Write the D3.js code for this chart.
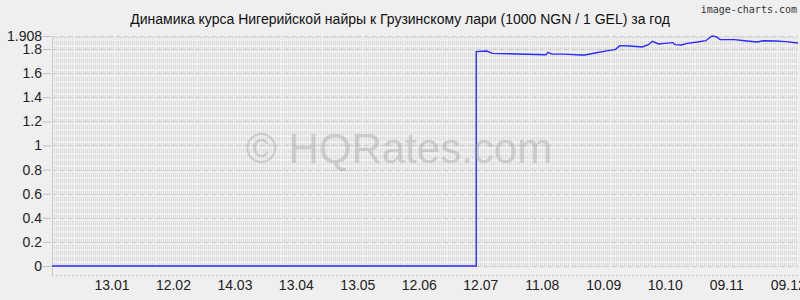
<!DOCTYPE html>
<html>
<head>
<meta charset="utf-8">
<script src="https://cdn.jsdelivr.net/npm/d3@7"></script>
<style>
  body { margin: 0; background: #efefef; }
  svg { display: block; font-family: "Liberation Sans", Arial, sans-serif; }
</style>
</head>
<body>
<div id="wrapper"></div>
<script>
// Data (1000 NGN in GEL)
const dates = [
  "2024-12-15", "2025-07-10", "2025-07-10", "2025-07-15", "2025-07-18", "2025-08-13",
  "2025-08-14", "2025-08-16", "2025-08-22", "2025-08-30", "2025-09-01", "2025-09-06",
  "2025-09-11", "2025-09-16", "2025-09-18", "2025-09-23", "2025-09-29", "2025-10-02",
  "2025-10-04", "2025-10-07", "2025-10-10", "2025-10-14", "2025-10-15", "2025-10-18",
  "2025-10-21", "2025-10-26", "2025-10-30", "2025-11-02", "2025-11-04", "2025-11-06",
  "2025-11-13", "2025-11-18", "2025-11-24", "2025-11-27", "2025-12-03", "2025-12-08",
  "2025-12-14"
]
const values = [
  0, 0, 1.778, 1.783, 1.764, 1.753,
  1.772, 1.758, 1.758, 1.750, 1.750, 1.767,
  1.783, 1.797, 1.828, 1.825, 1.817, 1.836,
  1.864, 1.842, 1.847, 1.853, 1.836, 1.833,
  1.847, 1.858, 1.869, 1.908, 1.903, 1.878,
  1.878, 1.869, 1.858, 1.869, 1.867, 1.861,
  1.850
]
const tickDates = ["2025-01-13", "2025-02-12", "2025-03-14", "2025-04-13", "2025-05-13", "2025-06-12",
                   "2025-07-12", "2025-08-11", "2025-09-10", "2025-10-10", "2025-11-09", "2025-12-09"]
const tickLabels = ["13.01", "12.02", "14.03", "13.04", "13.05", "12.06",
                    "12.07", "11.08", "10.09", "10.10", "09.11", "09.12"]
const yTicks = [0, 0.2, 0.4, 0.6, 0.8, 1, 1.2, 1.4, 1.6, 1.8, 1.908]
const yDomain = [-0.075, 1.908]
const xDomain = ["2024-12-15", "2025-12-14"]
const title = "Динамика курса Нигерийской найры к Грузинскому лари (1000 NGN / 1 GEL) за год"

const parse = d3.utcParse("%Y-%m-%d")
const dataset = dates.map((d, i) => ({ date: parse(d), value: values[i] }))

let dimensions = {
  width: 800,
  height: 300,
  margin: { top: 36, right: 2, bottom: 25, left: 52 }
}
dimensions.boundedWidth = dimensions.width - dimensions.margin.left - dimensions.margin.right
dimensions.boundedHeight = dimensions.height - dimensions.margin.top - dimensions.margin.bottom

const xScale = d3.scaleUtc()
  .domain(xDomain.map(parse))
  .range([0, dimensions.boundedWidth])

const yScale = d3.scaleLinear()
  .domain(yDomain)
  .range([dimensions.boundedHeight, 0])

const svg = d3.select("#wrapper").append("svg")
  .attr("width", dimensions.width)
  .attr("height", dimensions.height)

svg.append("rect")
  .attr("width", dimensions.width)
  .attr("height", dimensions.height)
  .attr("fill", "#efefef")

const bounds = svg.append("g")
  .attr("transform", `translate(${dimensions.margin.left}, ${dimensions.margin.top})`)

// dense vertical grid, one dashed line per day
const days = d3.utcDay.range(...xScale.domain())
bounds.append("g")
  .selectAll("line")
  .data(days)
  .join("line")
  .attr("x1", d => Math.round(xScale(d)) + 0.5)
  .attr("x2", d => Math.round(xScale(d)) + 0.5)
  .attr("y1", yScale(0) + 1)
  .attr("y2", 0)
  .attr("stroke", "#dadada")
  .attr("stroke-dasharray", "4,2")

// horizontal dashed lines at y ticks
bounds.append("g")
  .selectAll("line")
  .data(yTicks)
  .join("line")
  .attr("x1", 0)
  .attr("x2", dimensions.boundedWidth)
  .attr("y1", d => Math.round(yScale(d)) + 0.5)
  .attr("y2", d => Math.round(yScale(d)) + 0.5)
  .attr("stroke", "#cccccc")
  .attr("stroke-dasharray", "5,3")

// bottom dotted line and left axis line
bounds.append("line")
  .attr("x1", 0).attr("x2", dimensions.boundedWidth)
  .attr("y1", dimensions.boundedHeight + 0.5).attr("y2", dimensions.boundedHeight + 0.5)
  .attr("stroke", "#c8c8c8")
  .attr("stroke-dasharray", "2,2")
bounds.append("line")
  .attr("x1", 0.5).attr("x2", 0.5)
  .attr("y1", 0).attr("y2", dimensions.boundedHeight)
  .attr("stroke", "#cccccc")

// watermark
svg.append("text")
  .attr("x", 399)
  .attr("y", 163)
  .attr("text-anchor", "middle")
  .attr("font-size", 42)
  .attr("fill", "#9a9a9a")
  .attr("fill-opacity", 0.4)
  .text("© HQRates.com")

// y axis
const yAxis = d3.axisLeft(yScale)
  .tickValues(yTicks)
  .tickFormat(d => d3.format("")(d))
  .tickSize(8)
  .tickPadding(2)
const yAxisGroup = bounds.append("g").call(yAxis)
yAxisGroup.select(".domain").remove()
yAxisGroup.selectAll(".tick line").attr("stroke", "#c0c0c0").attr("transform", "translate(-1,0)")
yAxisGroup.selectAll(".tick text")
  .attr("font-size", 14)
  .attr("fill", "#222")
  .attr("font-family", "Liberation Sans, Arial, sans-serif")

// x axis
const xAxis = d3.axisBottom(xScale)
  .tickValues(tickDates.map(parse))
  .tickFormat((d, i) => tickLabels[i])
  .tickSize(0)
  .tickPadding(5)
const xAxisGroup = bounds.append("g")
  .attr("transform", `translate(0, ${dimensions.boundedHeight})`)
  .call(xAxis)
xAxisGroup.select(".domain").remove()
xAxisGroup.selectAll(".tick text")
  .attr("font-size", 14)
  .attr("fill", "#222")
  .attr("font-family", "Liberation Sans, Arial, sans-serif")

// the rate line
const lineGenerator = d3.line()
  .x(d => xScale(d.date))
  .y(d => yScale(d.value))
bounds.append("path")
  .datum(dataset)
  .attr("d", lineGenerator)
  .attr("fill", "none")
  .attr("stroke", "#2a2aff")
  .attr("stroke-width", 1.4)

// title and credit
svg.append("text")
  .attr("x", 400)
  .attr("y", 24)
  .attr("text-anchor", "middle")
  .attr("font-size", 14)
  .attr("fill", "#111")
  .text(title)

svg.append("text")
  .attr("x", 797)
  .attr("y", 13)
  .attr("text-anchor", "end")
  .attr("font-size", 10)
  .attr("font-family", "DejaVu Sans Mono, monospace")
  .attr("fill", "#333")
  .text("image-charts.com")
</script>
</body>
</html>
